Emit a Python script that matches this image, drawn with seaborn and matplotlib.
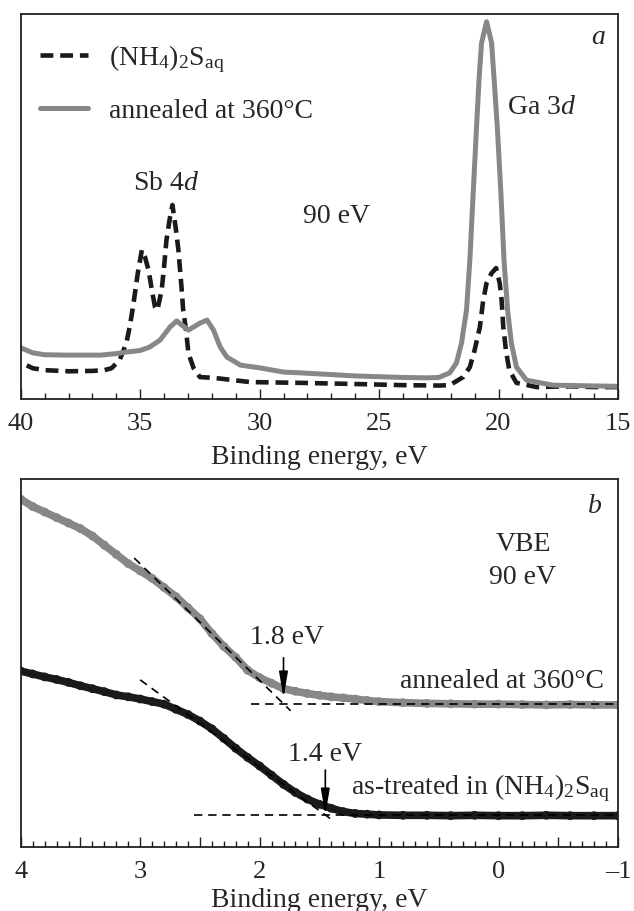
import numpy as np
import pandas as pd
import matplotlib
matplotlib.use("Agg")
import matplotlib.pyplot as plt
from matplotlib.ticker import MultipleLocator
import seaborn as sns

# 패널 a: 내부 준위 스펙트럼 (90 eV)
core_x_treated = [40, 39.5, 39, 38, 37, 36.5, 36.2, 35.86, 35.58, 35.44, 35.3, 35.2, 35.1,
                  34.93, 34.8, 34.65, 34.51, 34.38, 34.28, 34.1, 34.0, 33.9, 33.75, 33.65,
                  33.5, 33.4, 33.33, 33.26, 33.2, 33.08, 32.98, 32.77, 32.5, 31.93, 30.4,
                  28.3, 26, 24, 22.5, 22.04, 21.48, 21.2, 21.0, 20.78, 20.64, 20.5, 20.29,
                  20.1, 19.95, 19.87, 19.8, 19.69, 19.55, 19.25, 18.4, 17, 16, 15]
core_y_treated = [9.5, 8.0, 7.5, 7.2, 7.3, 7.5, 8.0, 10.1, 14.5, 18.7, 23.9, 28.3, 32.7,
                  38.7, 36.9, 33.5, 28.3, 23.9, 23.1, 28.3, 34.3, 41.3, 47.3, 50.4,
                  43.9, 38.7, 33.5, 28.3, 23.1, 17.9, 11.9, 8.1, 5.7, 5.5, 4.4,
                  4.2, 3.9, 3.6, 3.5, 3.6, 5.7, 8.3, 12.7, 18.7, 25.7, 30.1, 32.7,
                  34.0, 30.1, 25.7, 18.7, 12.7, 7.5, 4.2, 3.1, 3.3, 3.1, 3.1]

core_x_annealed = [40, 39.5, 39, 38, 37, 36.66, 36, 35.58, 35, 34.6, 34.17, 33.75, 33.47,
                   33.26, 32.98, 32.5, 32.2, 31.93, 31.65, 31.37, 30.8, 30.0, 29.0, 28.3,
                   26, 24, 23, 22.5, 22.04, 21.76, 21.55, 21.34, 21.2, 21.06, 20.92, 20.81,
                   20.71, 20.5, 20.29, 20.19, 20.05, 19.9, 19.77, 19.62, 19.46, 19.25,
                   18.83, 17.73, 16, 15]
core_y_annealed = [13.3, 12.0, 11.5, 11.4, 11.4, 11.4, 11.8, 12.2, 12.6, 13.5, 15.3, 18.7,
                   20.3, 19.2, 17.9, 19.7, 20.5, 17.9, 13.5, 10.9, 8.8, 8.1, 7.0, 6.8,
                   6.0, 5.6, 5.5, 5.6, 6.8, 9.4, 14.5, 23.1, 36.1, 53.5, 70.6, 83.6,
                   92.5, 98.0, 92.5, 83.6, 70.6, 53.5, 36.1, 23.1, 14.5, 8.3,
                   4.9, 3.6, 3.4, 3.3]

# 패널 b: 가전자대 끝 (VBE)
vbe_x = [4.0, 3.9, 3.8, 3.7, 3.6, 3.5, 3.4, 3.3, 3.2, 3.1, 3.0, 2.9, 2.8, 2.7, 2.6, 2.5,
         2.4, 2.3, 2.2, 2.1, 2.0, 1.9, 1.8, 1.7, 1.6, 1.5, 1.4, 1.3, 1.2, 1.1, 1.0, 0.8,
         0.6, 0.4, 0.2, 0.0, -0.2, -0.4, -0.6, -0.8, -1.0]
vbe_annealed = [94.5, 92.5, 91.0, 89.5, 88.0, 86.5, 84.5, 82.0, 79.5, 77.0, 75.0, 73.0,
                70.5, 68.0, 65.0, 62.0, 58.0, 54.5, 51.5, 48.0, 46.0, 44.5, 43.0, 42.3,
                41.7, 41.2, 40.8, 40.5, 40.2, 39.8, 39.5, 39.2, 39.0, 38.9, 38.8, 38.8,
                38.7, 38.6, 38.7, 38.6, 38.6]
vbe_treated = [47.8, 47.0, 46.2, 45.5, 44.7, 43.8, 43.0, 42.2, 41.3, 40.8, 40.2, 39.5,
               38.8, 37.4, 36.0, 34.2, 32.1, 29.5, 26.8, 24.3, 22.0, 19.5, 17.0, 14.8,
               13.0, 11.6, 10.5, 9.6, 9.1, 8.9, 8.7, 8.6, 8.6, 8.5, 8.6, 8.5, 8.5, 8.6,
               8.5, 8.5, 8.5]

# 선형 외삽선
fit_x_annealed = [3.05, 1.74]
fit_y_annealed = [78.5, 37.0]
base_x_annealed = [2.07, -1.0]
base_y_annealed = [38.9, 38.9]
fit_x_treated = [3.0, 1.40]
fit_y_treated = [45.4, 7.5]
base_x_treated = [2.55, -1.0]
base_y_treated = [8.7, 8.7]

onset_annealed = 1.8
onset_treated = 1.45

GREY = "#878787"
BLACK = "#1a1a1a"

sns.set_theme(style="ticks")
plt.rcParams["font.family"] = ["Liberation Serif", "DejaVu Serif"]
plt.rcParams["mathtext.fontset"] = "custom"
plt.rcParams["mathtext.rm"] = "Liberation Serif"
plt.rcParams["mathtext.it"] = "Liberation Serif:italic"
plt.rcParams["mathtext.default"] = "regular"
plt.rcParams["axes.unicode_minus"] = True

FS = 20
TS = 19

fig = plt.figure(figsize=(6.34, 9.11), dpi=100)
ax1 = fig.add_axes([0.0327, 0.562, 0.942, 0.4226])
ax2 = fig.add_axes([0.0327, 0.0703, 0.942, 0.404])

df_a = pd.DataFrame({"E": core_x_treated, "I": core_y_treated})
df_b = pd.DataFrame({"E": core_x_annealed, "I": core_y_annealed})

sns.lineplot(data=df_a, x="E", y="I", ax=ax1, color=BLACK, linewidth=3.3,
             linestyle=(0, (2.8, 1.5)), estimator=None,
             label=r"(NH$_4$)$_2$S$_{aq}$")
sns.lineplot(data=df_b, x="E", y="I", ax=ax1, color=GREY, linewidth=3.6,
             estimator=None, label="annealed at 360°C")

ax1.set_xlim(40, 15)
ax1.set_ylim(0, 100)
ax1.xaxis.set_major_locator(MultipleLocator(5))
ax1.xaxis.set_minor_locator(MultipleLocator(1))
ax1.set_yticks([])
ax1.set_ylabel("")
ax1.set_xlabel("Binding energy, eV", fontsize=FS, labelpad=7)
ax1.tick_params(axis="x", which="major", direction="in", length=7, width=1, pad=10,
                labelsize=TS, color="#222222")
ax1.tick_params(axis="x", which="minor", direction="in", length=4.5, width=1,
                color="#222222")
leg = ax1.legend(loc="upper left", bbox_to_anchor=(0.032, 0.925), frameon=False,
                 fontsize=FS, handlelength=1.75, handletextpad=0.75, labelspacing=0.85,
                 borderpad=0, borderaxespad=0)

ax1.text(33.92, 56, r"Sb 4$\mathit{d}$", fontsize=FS, ha="center", va="center")
ax1.text(26.8, 47.3, "90 eV", fontsize=FS, ha="center", va="center")
ax1.text(18.2, 75.6, r"Ga 3$\mathit{d}$", fontsize=FS, ha="center", va="center")
ax1.text(15.85, 93.8, "a", fontsize=FS, style="italic", ha="center", va="center")

df_vbe = pd.DataFrame({"E": vbe_x, "annealed": vbe_annealed, "treated": vbe_treated})
sns.lineplot(data=df_vbe, x="E", y="annealed", ax=ax2, color=GREY, linewidth=5.5,
             estimator=None)
sns.lineplot(data=df_vbe, x="E", y="treated", ax=ax2, color=BLACK, linewidth=5.5,
             estimator=None)
sns.scatterplot(data=df_vbe, x="E", y="annealed", ax=ax2, color=GREY, s=40,
                edgecolor="none")
sns.scatterplot(data=df_vbe, x="E", y="treated", ax=ax2, color=BLACK, s=40,
                edgecolor="none")

dash = (0, (5, 3.5))
for fx, fy in [(fit_x_annealed, fit_y_annealed), (base_x_annealed, base_y_annealed),
               (fit_x_treated, fit_y_treated), (base_x_treated, base_y_treated)]:
    ax2.plot(fx, fy, color="black", linewidth=1.2, linestyle=dash, zorder=5)

arrow = dict(arrowstyle="-|>,head_length=1.3,head_width=0.22", color="black",
             linewidth=1.2, shrinkA=0, shrinkB=0)
ax2.annotate("", xy=(onset_annealed, 40.5), xytext=(onset_annealed, 51.4),
             arrowprops=arrow, zorder=6)
ax2.text(1.77, 56.8, "1.8 eV", fontsize=FS, ha="center", va="center")
ax2.annotate("", xy=(onset_treated, 8.7), xytext=(onset_treated, 20.9),
             arrowprops=arrow, zorder=6)
ax2.text(1.45, 25.0, "1.4 eV", fontsize=FS, ha="center", va="center")

ax2.text(-0.81, 92.5, "b", fontsize=FS, style="italic", ha="center", va="center")
ax2.text(-0.21, 82.1, "VBE", fontsize=FS, ha="center", va="center")
ax2.text(-0.20, 73.1, "90 eV", fontsize=FS, ha="center", va="center")
ax2.text(-0.88, 44.9, "annealed at 360°C", fontsize=FS, ha="right", va="center")
ax2.text(-0.93, 16.0, r"as-treated in (NH$_4$)$_2$S$_{aq}$", fontsize=FS,
         ha="right", va="center")


def tick_text(t):
    if t != int(t):
        return ""
    return "\u2013" + str(int(-t)) if t < 0 else str(int(t))


ax2.set_xlim(4, -1)
ax2.set_ylim(0, 100)
half_ticks = np.arange(-1, 4.01, 0.5)
ax2.set_xticks(half_ticks)
ax2.set_xticklabels([tick_text(t) for t in half_ticks])
ax2.xaxis.set_minor_locator(MultipleLocator(0.1))
ax2.set_yticks([])
ax2.set_ylabel("")
ax2.set_xlabel("Binding energy, eV", fontsize=FS, labelpad=3.5)
ax2.tick_params(axis="x", which="major", direction="in", length=7, width=1, pad=10,
                labelsize=TS, color="#222222")
ax2.tick_params(axis="x", which="minor", direction="in", length=4, width=1,
                color="#222222")

for ax in (ax1, ax2):
    for side in ("top", "right", "left", "bottom"):
        ax.spines[side].set_visible(True)
        ax.spines[side].set_linewidth(1.3)
        ax.spines[side].set_color("#222222")

fig.savefig("out.png", dpi=100)
